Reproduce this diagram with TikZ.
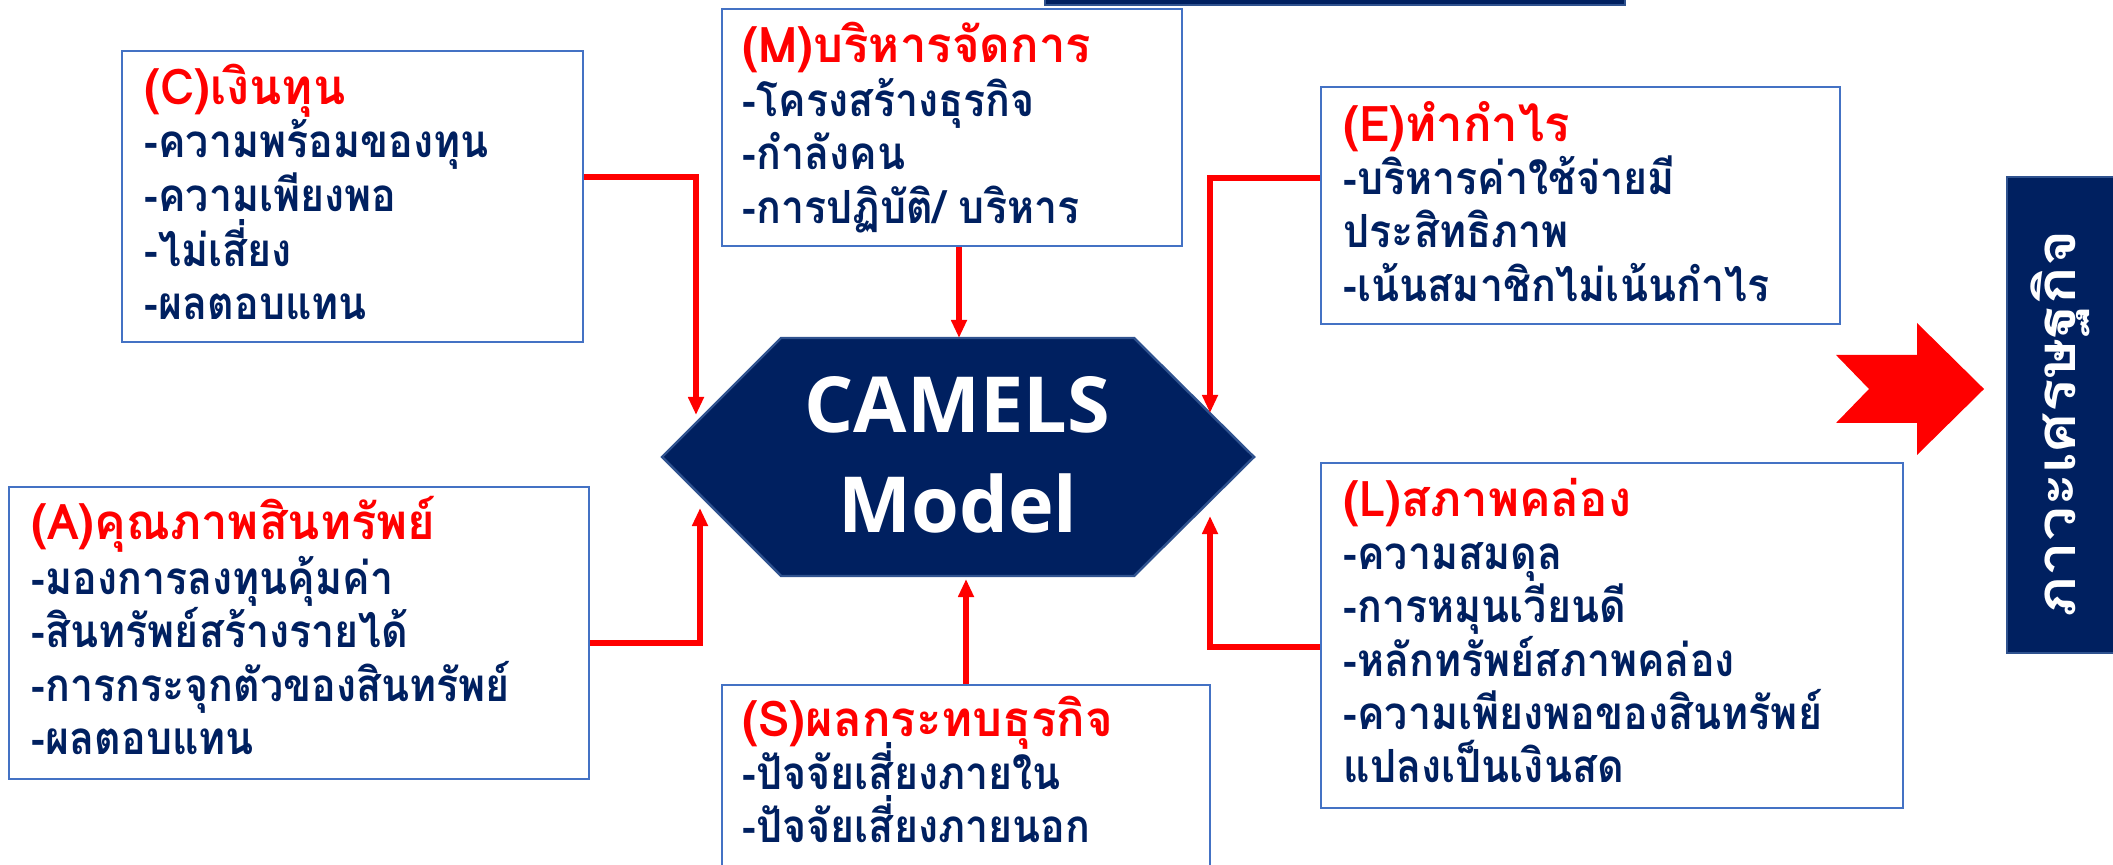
\documentclass[tikz,border=0pt]{standalone}
\usepackage{fontspec}
\newfontfamily\thaibody[Script=Thai,FakeStretch=0.9]{Loma}
\newfontfamily\thaititle[Script=Thai,FakeStretch=0.96]{Loma}
\newfontfamily\thaivert[Script=Thai,FakeStretch=1.14]{Loma}
\newfontfamily\camfont{Open Sans}
\usetikzlibrary{arrows.meta,fit,calc}
\definecolor{navy}{HTML}{002060}
\definecolor{bblue}{HTML}{4472C4}
\definecolor{hexborder}{HTML}{2F528F}
\begin{document}
\begin{tikzpicture}[x=0.01cm,y=-0.01cm,
  box/.style={draw=bblue, line width=0.7pt, inner sep=0pt, fill=white},
  ln/.style={anchor=base west, inner sep=0pt, font=\thaibody\bfseries\fontsize{13}{16}\selectfont, text=navy},
  ttl/.style={anchor=base west, inner sep=0pt, font=\thaititle\bfseries\fontsize{14}{16}\selectfont, text=red},
  conn/.style={draw=red, line width=1.5pt, -{Triangle[length=0.18cm,width=0.15cm]}},
  cam/.style={anchor=base, inner sep=0pt, text=white, font=\camfont\bfseries\fontsize{22}{26}\selectfont}]
\useasboundingbox (0,0) rectangle (2113,865);
% top bar
\node[fill=navy, draw=hexborder, line width=0.7pt, inner sep=0pt, fit={(1045,-30)(1625,5)}] (T) {};
% boxes
\node[box, fit={(122,51)(583,342)}] (C) {};
\node[box, fit={(722,9)(1182,246)}] (M) {};
\node[box, fit={(1321,87)(1840,324)}] (E) {};
\node[box, fit={(9,487)(589,779)}] (A) {};
\node[box, fit={(722,685)(1210,900)}] (S) {};
\node[box, fit={(1321,463)(1903,808)}] (L) {};
% hexagon
\fill[navy, draw=hexborder, line width=0.7pt] (662,457) -- (781,338) -- (1134,338) -- (1254,457) -- (1134,576) -- (781,576) -- cycle;
\node[inner sep=0pt, fit={(662,338)(1254,576)}] (H) {};
\node[cam] (H1) at (957,433) {CAMELS};
\node[cam] (H2) at (958,533) {Model};
% texts C
\node[ttl] (C0) at (144,105) {(C)เงินทุน};
\node[ln] (C1) at (144,158) {-ความพร้อมของทุน};
\node[ln] (C2) at (144,212) {-ความเพียงพอ};
\node[ln] (C3) at (144,267) {-ไม่เสี่ยง};
\node[ln] (C4) at (144,320) {-ผลตอบแทน};
% texts M
\node[ttl] (M0) at (742,63) {(M)บริหารจัดการ};
\node[ln] (M1) at (742,117) {-โครงสร้างธุรกิจ};
\node[ln] (M2) at (742,170) {-กำลังคน};
\node[ln] (M3) at (742,224) {-การปฏิบัติ/ บริหาร};
% texts E
\node[ttl] (E0) at (1343,142) {(E)ทำกำไร};
\node[ln] (E1) at (1343,195) {-บริหารค่าใช้จ่ายมี};
\node[ln] (E2) at (1343,248) {ประสิทธิภาพ};
\node[ln] (E3) at (1343,302) {-เน้นสมาชิกไม่เน้นกำไร};
% texts A
\node[ttl] (A0) at (31,540) {(A)คุณภาพสินทรัพย์};
\node[ln] (A1) at (31,595) {-มองการลงทุนคุ้มค่า};
\node[ln] (A2) at (31,648) {-สินทรัพย์สร้างรายได้};
\node[ln] (A3) at (31,702) {-การกระจุกตัวของสินทรัพย์};
\node[ln] (A4) at (31,755) {-ผลตอบแทน};
% texts S
\node[ttl] (S0) at (742,737) {(S)ผลกระทบธุรกิจ};
\node[ln] (S1) at (742,790) {-ปัจจัยเสี่ยงภายใน};
\node[ln] (S2) at (742,843) {-ปัจจัยเสี่ยงภายนอก};
% texts L
\node[ttl] (L0) at (1343,517) {(L)สภาพคล่อง};
\node[ln] (L1) at (1343,570) {-ความสมดุล};
\node[ln] (L2) at (1343,623) {-การหมุนเวียนดี};
\node[ln] (L3) at (1343,677) {-หลักทรัพย์สภาพคล่อง};
\node[ln] (L4) at (1343,730) {-ความเพียงพอของสินทรัพย์};
\node[ln] (L5) at (1343,783) {แปลงเป็นเงินสด};
% connectors
\coordinate (Cy) at (0,177); \coordinate (Cend) at (696,415);
\draw[conn] (C.east |- Cy) -| (Cend);
\coordinate (Mx) at (959,0); \coordinate (Mend) at (959,338);
\draw[conn] (M.south -| Mx) -- (Mend);
\coordinate (Ey) at (0,178); \coordinate (Eend) at (1210,413);
\draw[conn] (E.west |- Ey) -| (Eend);
\coordinate (Ay) at (0,643); \coordinate (Aend) at (700,508);
\draw[conn] (A.east |- Ay) -| (Aend);
\coordinate (Sx) at (966,0); \coordinate (Send) at (966,579);
\draw[conn] (S.north -| Sx) -- (Send);
\coordinate (Ly) at (0,647); \coordinate (Lend) at (1210,516);
\draw[conn] (L.west |- Ly) -| (Lend);
% big arrow
\fill[red] (1836,355) -- (1917,355) -- (1917,323) -- (1984,389) -- (1917,455) -- (1917,423) -- (1836,423) -- (1869,389) -- cycle;
% right box
\node[fill=navy, draw=hexborder, line width=0.7pt, inner sep=0pt, fit={(2007,177)(2140,653)}] (R) {};
\node[rotate=90, anchor=base, inner sep=0pt, text=white, font=\thaivert\bfseries\fontsize{15.5}{18}\selectfont] (Rt) at (2075,424) {ภาวะเศรษฐกิจ};
\end{tikzpicture}
\end{document}
